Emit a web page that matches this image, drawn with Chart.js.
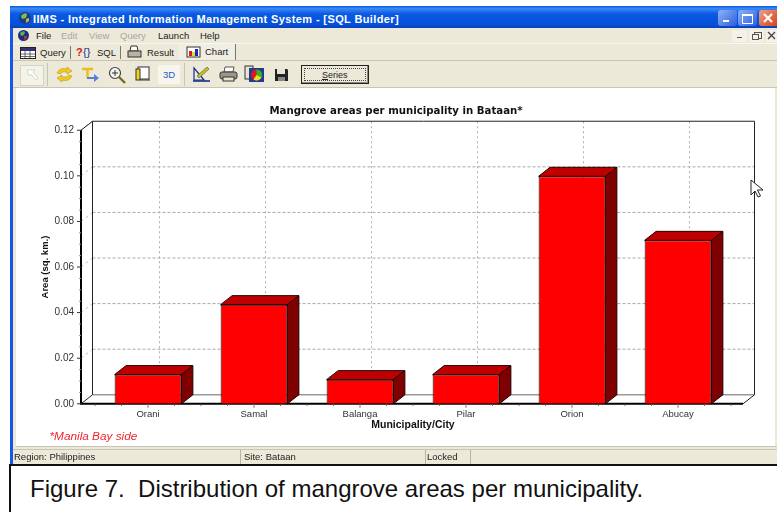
<!DOCTYPE html>
<html>
<head>
<meta charset="utf-8">
<title>IIMS Chart</title>
<script src="https://cdn.jsdelivr.net/npm/chart.js@4"></script>
<style>
  html, body { margin: 0; padding: 0; background: #fff; }
  #page { position: relative; width: 777px; height: 512px; overflow: hidden; font-family: "Liberation Sans", Arial, sans-serif; }
  .box { position: absolute; }
  .t { position: absolute; white-space: pre; color: #222; font-size: 9.5px; line-height: 12px; }
  .off { color: #aaa8a0; }
  svg { position: absolute; }
  canvas { position: absolute; left: 15px; top: 88px; }
</style>
</head>
<body>
<div id="page">
  <!-- window frame -->
  <div class="box" style="left:10px;top:6px;width:767px;height:458px;background:#ece9d8"></div>
  <div class="box" style="left:10px;top:6px;width:3px;height:458px;background:#1558e6"></div>
  <div class="box" style="left:10px;top:6px;width:767px;height:22px;background:linear-gradient(#0a58e0,#3c8af5 12%,#0a5ae4 35%,#0450d8 85%,#0a3eb8)"></div>
  <svg style="left:18px;top:11px" width="14" height="14"><circle cx="7" cy="7" r="6" fill="#1a3c8a"/><path d="M3 5q3-4 6-2l-1 4-4 1z" fill="#7fbf4a"/><path d="M8 8l3-1 0 3-3 2z" fill="#d8b040"/></svg>
  <div class="t" style="left:33px;top:13px;color:#fff;font-weight:bold;font-size:11px;letter-spacing:0.38px">IIMS - Integrated Information Management System - [SQL Builder]</div>

  <!-- caption buttons -->
  <div class="box" style="left:718px;top:10px;width:19px;height:16px;border-radius:3px;background:linear-gradient(135deg,#8fb2f5,#2a5fe0)"></div>
  <div class="box" style="left:723px;top:20px;width:6px;height:2px;background:#fff"></div>
  <div class="box" style="left:738px;top:10px;width:19px;height:16px;border-radius:3px;background:linear-gradient(135deg,#8fb2f5,#2a5fe0)"></div>
  <div class="box" style="left:742px;top:14px;width:9px;height:7px;border:1px solid #fff;border-top-width:2px"></div>
  <div class="box" style="left:759px;top:10px;width:18px;height:16px;border-radius:3px 0 0 3px;background:linear-gradient(135deg,#f0a080,#d8401c)"></div>
  <svg style="left:762px;top:12px" width="12" height="12"><path d="M2 2l8 8M10 2l-8 8" stroke="#fff" stroke-width="2.2"/></svg>

  <!-- menu bar -->
  <svg style="left:17px;top:29px" width="13" height="13"><circle cx="6.5" cy="6.5" r="5.5" fill="#1a2f80"/><path d="M3 4q3-3 5-1l-1 3-3 1z" fill="#6fa84a"/><path d="M7 7l3 0 0 2-3 2z" fill="#c03030"/></svg>
  <div class="t" style="left:36px;top:30px">File</div>
  <div class="t off" style="left:61px;top:30px">Edit</div>
  <div class="t off" style="left:89px;top:30px">View</div>
  <div class="t off" style="left:120px;top:30px">Query</div>
  <div class="t" style="left:158px;top:30px">Launch</div>
  <div class="t" style="left:200px;top:30px">Help</div>
  <div class="box" style="left:732px;top:30px;width:15px;height:12px;background:#f4f2e8"></div>
  <div class="box" style="left:737px;top:37px;width:5px;height:1px;background:#555"></div>
  <div class="box" style="left:749px;top:30px;width:15px;height:12px;background:#f4f2e8"></div>
  <div class="box" style="left:754px;top:32px;width:6px;height:5px;border:1px solid #555"></div>
  <div class="box" style="left:752px;top:34px;width:5px;height:4px;border:1px solid #555;background:#f4f2e8"></div>
  <div class="box" style="left:766px;top:30px;width:11px;height:12px;background:#f4f2e8"></div>
  <svg style="left:767px;top:31px" width="9" height="9"><path d="M1 1l7 7M8 1l-7 7" stroke="#444" stroke-width="1.4"/></svg>
  <div class="box" style="left:13px;top:43px;width:764px;height:1px;background:#f8f7f0"></div>

  <!-- tab strip -->
  <svg style="left:20px;top:47px" width="16" height="12"><rect x="0.5" y="0.5" width="15" height="11" fill="#fff" stroke="#222"/><rect x="1" y="1" width="14" height="3" fill="#33337a"/><path d="M1 7h14M1 9.5h14M5 4v7M10 4v7" stroke="#444" stroke-width="0.8"/></svg>
  <div class="t" style="left:40px;top:47px">Query</div>
  <div class="box" style="left:70px;top:46px;width:1px;height:13px;background:#777"></div>
  <div class="t" style="left:76px;top:46px;font-size:11px;color:#d01818;font-weight:bold">?</div>
  <div class="t" style="left:83px;top:46px;font-size:11px;color:#1a2a90">{}</div>
  <div class="t" style="left:97px;top:47px">SQL</div>
  <div class="box" style="left:120px;top:46px;width:1px;height:13px;background:#777"></div>
  <svg style="left:127px;top:45px" width="15" height="14"><path d="M4 1h6l1 5H3z" fill="#fff" stroke="#333"/><rect x="1" y="6" width="13" height="6" fill="#b8b4a4" stroke="#333"/></svg>
  <div class="t" style="left:147px;top:47px">Result</div>
  <div class="box" style="left:178px;top:44px;width:57px;height:16px;border-right:1px solid #777;background:#f0eee2"></div>
  <svg style="left:186px;top:45px" width="15" height="14"><rect x="1" y="2" width="13" height="10" fill="#fff" stroke="#333"/><rect x="3" y="6" width="3" height="5" fill="#e01818"/><rect x="6" y="7" width="3" height="4" fill="#e8d818"/><rect x="9" y="4" width="3" height="7" fill="#1828c8"/></svg>
  <div class="t" style="left:205px;top:46px">Chart</div>
  <div class="box" style="left:13px;top:60px;width:764px;height:1px;background:#c8c4b4"></div>

  <!-- toolbar -->
  <div class="box" style="left:20px;top:65px;width:22px;height:19px;background:#f4f3ea;border:1px solid #d6d3c4"></div>
  <svg style="left:25px;top:68px" width="14" height="13"><path d="M2 2h8l-2 2 5 6-2 2-5-6-2 2z" fill="#fff" stroke="#d8d6c8"/></svg>
  <div class="box" style="left:47px;top:63px;width:1px;height:23px;background:#c8c4b4"></div>
  <svg style="left:55px;top:66px" width="19" height="17"><path d="M2 7q3-6 10-4l0-2 5 4-5 3 0-2q-5-1-7 2z" fill="#f0c820" stroke="#b89810" stroke-width="0.6"/><path d="M17 10q-3 6-10 4l0 2-5-4 5-3 0 2q5 1 7-2z" fill="#f0c820" stroke="#b89810" stroke-width="0.6"/></svg>
  <svg style="left:81px;top:66px" width="18" height="17"><path d="M1 3h11M6.5 3v9" stroke="#e8c018" stroke-width="2.4"/><path d="M6 11h7v-3l5 4-5 4v-3H6z" fill="#5a7fd8"/></svg>
  <svg style="left:108px;top:66px" width="18" height="18"><circle cx="7" cy="7" r="5.5" fill="#f6f6f0" stroke="#444" stroke-width="1.2"/><path d="M4 7h6M7 4v6" stroke="#333"/><path d="M11 11l6 6" stroke="#7a6a20" stroke-width="2.4"/></svg>
  <svg style="left:135px;top:66px" width="16" height="17"><rect x="3" y="1" width="11" height="12" fill="#fff" stroke="#333"/><rect x="1" y="3" width="4" height="11" fill="#f0d020" stroke="#333"/><path d="M5 14h10" stroke="#333"/></svg>
  <div class="box" style="left:158px;top:65px;width:22px;height:19px;background:#f6f5ee"></div>
  <div class="t" style="left:163px;top:69px;color:#2a58c8;font-size:9.5px">3D</div>
  <div class="box" style="left:184px;top:63px;width:1px;height:23px;background:#c8c4b4"></div>
  <svg style="left:192px;top:65px" width="19" height="18"><path d="M2 15V3l10 12z" fill="none" stroke="#1a2f90" stroke-width="1.2"/><path d="M5 11L15 2l2 2L7 13z" fill="#c8c020" stroke="#333" stroke-width="0.5"/><path d="M1 16h17" stroke="#1a2f90" stroke-width="1.6"/></svg>
  <svg style="left:219px;top:66px" width="19" height="17"><path d="M6 1h9l-1 5H5z" fill="#fff" stroke="#555"/><rect x="1" y="6" width="17" height="7" rx="2" fill="#9c9888" stroke="#333"/><rect x="4" y="11" width="11" height="4" fill="#e8e4d4" stroke="#333"/></svg>
  <svg style="left:244px;top:65px" width="21" height="18"><rect x="1" y="1" width="8" height="13" fill="#e8e4d4" stroke="#333"/><rect x="5" y="3" width="15" height="14" fill="#223a90"/><circle cx="12.5" cy="10" r="5.5" fill="#e01818"/><path d="M12.5 10V4.5a5.5 5.5 0 0 1 5 8z" fill="#28b828"/><path d="M12.5 10l5 2.5a5.5 5.5 0 0 1-8 2z" fill="#e8e030"/></svg>
  <svg style="left:274px;top:68px" width="15" height="14"><path d="M1 1h12l1 1v11H1z" fill="#222"/><rect x="3" y="1" width="8" height="5" fill="#e8e4d4"/><rect x="4" y="9" width="7" height="4" fill="#888"/></svg>
  <div class="box" style="left:301px;top:65px;width:66px;height:17px;background:#ece9d8;border:1px solid #222;box-shadow:inset -1px -1px 0 #888"></div>
  <div class="box" style="left:304px;top:68px;width:60px;height:11px;border:1px dotted #444"></div>
  <div class="t" style="left:322px;top:69px;font-size:9px"><u>S</u>eries</div>
  <div class="box" style="left:13px;top:87px;width:764px;height:1px;background:#c8c4b4"></div>

  <!-- chart panel -->
  <div class="box" style="left:16px;top:88px;width:759px;height:358px;background:#fff"></div>
  <div class="box" style="left:16px;top:446px;width:761px;height:1px;background:#c8c4b4"></div>
  <canvas id="chart" width="762" height="358"></canvas>
  <div class="t" style="left:49.500px;top:429px;color:#f0242c;font-style:italic;font-size:11.800px;line-height:14px">*Manila Bay side</div>
  <svg style="left:750px;top:179px" width="14" height="20"><path d="M1 1v15l4-4 3 6 2.500-1-3-6h5.500z" fill="#fff" stroke="#222" stroke-width="1"/></svg>

  <!-- status bar -->
  <div class="box" style="left:13px;top:449px;width:764px;height:1px;background:#c8c4b4"></div>
  <div class="box" style="left:240px;top:450px;width:1px;height:14px;background:#b8b4a4"></div>
  <div class="box" style="left:425px;top:450px;width:1px;height:14px;background:#b8b4a4"></div>
  <div class="box" style="left:470px;top:450px;width:1px;height:14px;background:#b8b4a4"></div>
  <div class="t" style="left:14px;top:451px;font-size:9.5px">Region: Philippines</div>
  <div class="t" style="left:244px;top:451px;font-size:9.5px">Site: Bataan</div>
  <div class="t" style="left:427px;top:451px;font-size:9.5px">Locked</div>

  <!-- caption box -->
  <div class="box" style="left:9px;top:464px;width:768px;height:1.500px;background:#111"></div>
  <div class="box" style="left:9px;top:464px;width:1.500px;height:48px;background:#111"></div>
  <div class="t" style="left:30px;top:475px;color:#111;font-size:24px;line-height:28px">Figure 7.  Distribution of mangrove areas per municipality.</div>
</div>

<script>
const municipalities = ["Orani", "Samal", "Balanga", "Pilar", "Orion", "Abucay"];
const areas = [0.0128, 0.0435, 0.0106, 0.0128, 0.0998, 0.0717];
const yTicks = [0, 0.02, 0.04, 0.06, 0.08, 0.1, 0.12];

// depth of the fake 3D box, and how far the floor runs past the first/last band
const depthX = 11.5;
const depthY = 9;
const overLeft = 14;
const overRight = 12;

function line(ctx, pts, color, width, dash) {
  ctx.save();
  ctx.strokeStyle = color;
  ctx.lineWidth = width;
  ctx.setLineDash(dash || []);
  ctx.beginPath();
  pts.forEach((p, i) => (i ? ctx.lineTo(p[0], p[1]) : ctx.moveTo(p[0], p[1])));
  ctx.stroke();
  ctx.restore();
}

function face(ctx, pts, fill) {
  ctx.save();
  ctx.fillStyle = fill;
  ctx.strokeStyle = "#200000";
  ctx.lineWidth = 1;
  ctx.beginPath();
  pts.forEach((p, i) => (i ? ctx.lineTo(p[0], p[1]) : ctx.moveTo(p[0], p[1])));
  ctx.closePath();
  ctx.fill();
  ctx.stroke();
  ctx.restore();
}

// back wall, floor and dashed gridlines go in behind the bars
const boxBack = {
  id: "boxBack",
  beforeDatasetsDraw(chart) {
    const { ctx, chartArea, scales } = chart;
    const left = chartArea.left - overLeft;
    const right = chartArea.right + overRight;
    const zero = scales.y.getPixelForValue(0);
    const top = scales.y.getPixelForValue(0.12);

    yTicks.slice(1).forEach((v) => {
      const y = scales.y.getPixelForValue(v);
      if (v < 0.12) line(ctx, [[left + depthX, y - depthY], [right + depthX, y - depthY]], "#a8a8a8", 1, [3, 2]);
      line(ctx, [[left, y], [left + depthX, y - depthY]], "#c0c0c0", 1, [3, 3]);
    });
    municipalities.forEach((m, i) => {
      const x = scales.x.getPixelForTick(i) + depthX;
      line(ctx, [[x, top - depthY], [x, zero - depthY]], "#b0b0b0", 1, [2, 3]);
    });

    line(ctx, [[left + depthX, zero - depthY], [right + depthX, zero - depthY]], "#999", 1.5);
    line(ctx, [[left, top], [left + depthX, top - depthY], [left + depthX, zero - depthY], [left, zero]], "#222", 1);
    line(ctx, [[left + depthX, top - depthY], [right + depthX, top - depthY], [right + depthX, zero - depthY], [right, zero]], "#222", 1);
    line(ctx, [[left, top], [left, zero], [right, zero]], "#000", 2);

    // axis tick marks, four divisions per step
    const stepY = (zero - scales.y.getPixelForValue(0.02)) / 4;
    for (let i = 0; i <= 24; i++) {
      const y = zero - i * stepY;
      const major = i % 4 === 0;
      line(ctx, [[left - (major ? 4 : 2), y], [left, y]], major ? "#333" : "#999", 1);
    }
    const band = scales.x.getPixelForTick(1) - scales.x.getPixelForTick(0);
    for (let i = 0; i <= 24; i++) {
      const x = chartArea.left + (i * band) / 4;
      const major = i % 4 === 2;
      line(ctx, [[x, zero], [x, zero + (major ? 4 : 2)]], major ? "#777" : "#555", 1);
    }
  },
};

// top and side faces are built from each bar element's own geometry
const barFaces = {
  id: "barFaces",
  afterDatasetsDraw(chart) {
    const { ctx } = chart;
    chart.getDatasetMeta(0).data.forEach((bar) => {
      const l = bar.x - bar.width / 2;
      const r = bar.x + bar.width / 2;
      face(ctx, [[l, bar.y], [l + depthX, bar.y - depthY], [r + depthX, bar.y - depthY], [r, bar.y]], "#bf0000");
      face(ctx, [[r, bar.y], [r + depthX, bar.y - depthY], [r + depthX, bar.base - depthY], [r, bar.base]], "#7f0000");
    });
  },
};

new Chart(document.getElementById("chart"), {
  type: "bar",
  data: {
    labels: municipalities,
    datasets: [{
      data: areas,
      backgroundColor: "#ff0000",
      borderColor: "#200000",
      borderWidth: 1,
      barPercentage: 0.63,
      categoryPercentage: 1,
    }],
  },
  options: {
    responsive: false,
    animation: false,
    layout: { padding: { left: 0, right: 0, top: 0, bottom: 12.2 } },
    plugins: {
      legend: { display: false },
      tooltip: { enabled: false },
      title: {
        display: true,
        text: "Mangrove areas per municipality in Bataan*",
        color: "#111",
        font: { family: "'DejaVu Sans'", size: 10.2, weight: "bold" },
        padding: { top: 17, bottom: 13 },
      },
    },
    scales: {
      x: {
        grid: { display: false, drawTicks: false },
        border: { display: false },
        ticks: { color: "#333", padding: 4.5, font: { family: "'Liberation Sans'", size: 9.5 }, maxRotation: 0 },
        title: {
          display: true,
          text: "Municipality/City",
          color: "#111",
          font: { family: "'Liberation Sans'", size: 10.5, weight: "bold" },
          padding: { top: 0, bottom: 2.5 },
        },
        afterFit(scale) { scale.height = 30; },
      },
      y: {
        min: 0,
        max: 0.12,
        grid: { display: false, drawTicks: false },
        border: { display: false },
        ticks: {
          stepSize: 0.02,
          color: "#333",
          padding: 21,
          font: { family: "'Liberation Sans'", size: 10 },
          callback: (v) => v.toFixed(2),
        },
        title: {
          display: true,
          text: "Area (sq. km.)",
          color: "#111",
          font: { family: "'Liberation Sans'", size: 9.5, weight: "bold" },
          padding: { top: 25, bottom: 0 },
        },
        afterFit(scale) { scale.width = 80; },
      },
      // empty axis on the right only reserves the margin, so the title stays centred on the panel
      rightMargin: {
        position: "right",
        grid: { display: false, drawTicks: false },
        border: { display: false },
        ticks: { display: false },
        afterFit(scale) { scale.width = 46; },
      },
    },
  },
  plugins: [boxBack, barFaces],
});
</script>
</body>
</html>
